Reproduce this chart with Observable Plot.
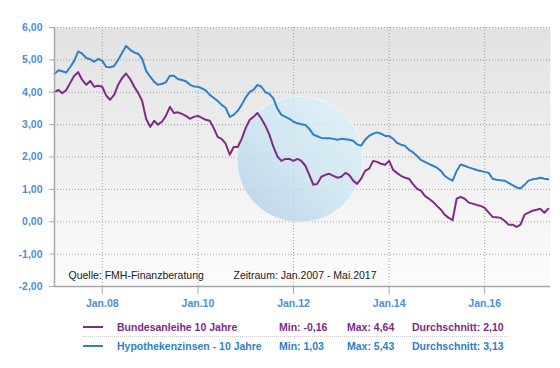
<!DOCTYPE html>
<html><head><meta charset="utf-8">
<script src="https://cdn.jsdelivr.net/npm/d3@7"></script>
<script src="https://cdn.jsdelivr.net/npm/@observablehq/plot@0.6"></script>
<style>
body{margin:0;background:#fff;font-family:"Liberation Sans",Arial,sans-serif;}
#wrap{width:560px;height:368px;position:relative;overflow:hidden}
.lg{position:absolute;font-size:10.5px;font-weight:bold;white-space:nowrap;line-height:12px}
.ln{position:absolute;height:2px}
.sep{position:absolute;left:83px;width:424px;top:336px;border-top:1px dotted #ccc}
</style></head>
<body><div id="wrap"><div id="chart"></div></div>
<script>
// Monthly values, Jan 2007 .. May 2017
const startMonth = "2007-01-01";
const bund = [4.01,4.07,3.97,4.07,4.29,4.51,4.62,4.38,4.23,4.35,4.17,4.20,
4.17,3.89,3.77,3.92,4.23,4.44,4.58,4.41,4.17,3.98,3.73,3.18,
2.93,3.12,3.00,3.09,3.27,3.55,3.36,3.38,3.33,3.27,3.18,3.24,
3.27,3.21,3.15,3.12,2.90,2.62,2.56,2.41,2.07,2.31,2.31,2.56,
2.90,3.15,3.24,3.36,3.18,2.96,2.69,2.31,2.01,1.88,1.94,1.94,
1.88,1.94,1.88,1.73,1.45,1.14,1.17,1.39,1.45,1.48,1.42,1.36,
1.39,1.51,1.45,1.27,1.17,1.33,1.57,1.64,1.88,1.85,1.79,1.76,
1.88,1.60,1.51,1.42,1.36,1.33,1.17,1.02,0.96,0.80,0.71,0.62,
0.49,0.37,0.22,0.12,0.05,0.71,0.77,0.71,0.59,0.56,0.52,0.49,
0.43,0.28,0.15,0.14,0.12,0.03,-0.09,-0.09,-0.16,-0.09,0.22,0.28,
0.34,0.37,0.40,0.28,0.40];
const hypo = [4.57,4.68,4.65,4.61,4.78,4.97,5.26,5.19,5.06,5.02,4.94,5.03,
4.97,4.78,4.77,4.81,5.00,5.22,5.43,5.31,5.23,5.19,5.03,4.66,
4.48,4.32,4.23,4.26,4.31,4.51,4.51,4.41,4.38,4.34,4.23,4.18,
4.17,4.12,4.06,3.92,3.83,3.73,3.61,3.52,3.24,3.30,3.43,3.61,
3.84,4.01,4.07,4.23,4.17,4.00,3.95,3.80,3.49,3.30,3.24,3.18,
3.09,3.04,3.01,2.99,2.87,2.69,2.64,2.59,2.58,2.58,2.56,2.53,
2.56,2.55,2.53,2.50,2.39,2.35,2.53,2.65,2.72,2.76,2.72,2.65,
2.65,2.56,2.44,2.38,2.35,2.22,2.15,2.04,1.91,1.85,1.79,1.73,
1.67,1.57,1.42,1.33,1.27,1.57,1.77,1.73,1.68,1.64,1.60,1.57,
1.54,1.51,1.33,1.30,1.28,1.27,1.20,1.13,1.06,1.03,1.14,1.27,
1.31,1.33,1.36,1.33,1.31];
const seriesNames = ["Bundesanleihe 10 Jahre","Hypothekenzinsen - 10 Jahre"];
const seriesColors = ["#7e2b86","#2f7fc9"];
const legendText = [["Min: -0,16","Max: 4,64","Durchschnitt: 2,10"],["Min: 1,03","Max: 5,43","Durchschnitt: 3,13"]];
const yTicks = [6,5,4,3,2,1,0,-1,-2];
const xTickYears = [2008,2010,2012,2014,2016];
const notes = ["Quelle: FMH-Finanzberatung","Zeitraum: Jan.2007 - Mai.2017"];

const t0 = new Date(startMonth);
const dates = bund.map((_,i)=>new Date(t0.getFullYear(), t0.getMonth()+i, 1));
const rows = [];
bund.forEach((v,i)=>rows.push({date:dates[i],v,s:seriesNames[0]}));
hypo.forEach((v,i)=>rows.push({date:dates[i],v,s:seriesNames[1]}));
const xTicks = xTickYears.map(y=>new Date(y,0,1));
const de = d=>d.toFixed(2).replace(".",",");
const axisColor = "#4b90d6";

const chart = Plot.plot({
  width:560, height:314,
  marginLeft:54, marginRight:10, marginTop:27, marginBottom:28,
  style:{fontFamily:"'Liberation Sans',Arial,sans-serif", background:"#fff"},
  x:{type:"utc", domain:[new Date(2007,0,1), new Date(2017,4,18)], label:null},
  y:{domain:[-2,6], label:null},
  color:{domain:seriesNames, range:seriesColors},
  marks:[
    Plot.frame({fill:"url(#bgGrad)", stroke:"none"}),
    Plot.gridY(yTicks,{stroke:"#9a9a9a", strokeOpacity:0.9, strokeDasharray:"1,2"}),
    Plot.gridX(xTicks,{stroke:"#9a9a9a", strokeOpacity:0.9, strokeDasharray:"1,2"}),
    Plot.dot([{date:new Date(2012,1,19), v:1.93}],{x:"date",y:"v",r:63,fill:"url(#logoGrad)",fillOpacity:0.82,stroke:"#ffffff",strokeOpacity:0.5,strokeWidth:1}),
    Plot.line(rows,{x:"date",y:"v",z:"s",stroke:"s",strokeWidth:2,curve:"linear"}),
    Plot.ruleY([-2],{stroke:"#a8a8a8",strokeWidth:1.5}),
    Plot.ruleX([new Date(2007,0,1)],{stroke:"#a8a8a8",strokeWidth:1.5}),
    Plot.axisY(yTicks,{tickSize:5,tickPadding:7,tickFormat:de,stroke:"#a8a8a8",fill:axisColor,fontWeight:"bold",fontSize:10.5}),
    Plot.axisX(xTicks,{tickSize:8,tickPadding:5,tickFormat:d=>"Jan."+String(d.getFullYear()).slice(2),stroke:"#a8a8a8",fill:axisColor,fontWeight:"bold",fontSize:10.5}),
    Plot.text([notes[0]],{frameAnchor:"bottom-left",dx:14,dy:-8,textAnchor:"start",fill:"#222",fontSize:10.5}),
    Plot.text([notes[1]],{frameAnchor:"bottom-left",dx:179,dy:-8,textAnchor:"start",fill:"#222",fontSize:10.5})
  ]
});
const ns="http://www.w3.org/2000/svg";
const defs=document.createElementNS(ns,"defs");
defs.innerHTML=`<linearGradient id="bgGrad" x1="0" y1="0" x2="0" y2="1"><stop offset="0" stop-color="#e2e2e2"/><stop offset="1" stop-color="#fcfcfc"/></linearGradient>
<linearGradient id="logoGrad" x1="0.85" y1="0.1" x2="0.15" y2="0.9"><stop offset="0" stop-color="#dcf0f9"/><stop offset="0.5" stop-color="#cce6f3"/><stop offset="1" stop-color="#b7d2e6"/></linearGradient>`;
chart.insertBefore(defs, chart.firstChild);
document.getElementById("chart").appendChild(chart);

const wrap=document.getElementById("wrap");
const rowY=[321,340];
const cols=[279,347,412];
seriesNames.forEach((n,i)=>{
  const ln=document.createElement("div");ln.className="ln";
  ln.style.cssText=`left:83px;width:20px;top:${rowY[i]+5}px;background:${seriesColors[i]}`;
  wrap.appendChild(ln);
  const t=document.createElement("div");t.className="lg";t.textContent=n;
  t.style.cssText=`left:117px;top:${rowY[i]}px;color:${seriesColors[i]}`;wrap.appendChild(t);
  legendText[i].forEach((s,j)=>{const e=document.createElement("div");e.className="lg";e.textContent=s;
    e.style.cssText=`left:${cols[j]}px;top:${rowY[i]}px;color:${seriesColors[i]}`;wrap.appendChild(e);});
});
const sep=document.createElement("div");sep.className="sep";wrap.appendChild(sep);
</script>
</body></html>
